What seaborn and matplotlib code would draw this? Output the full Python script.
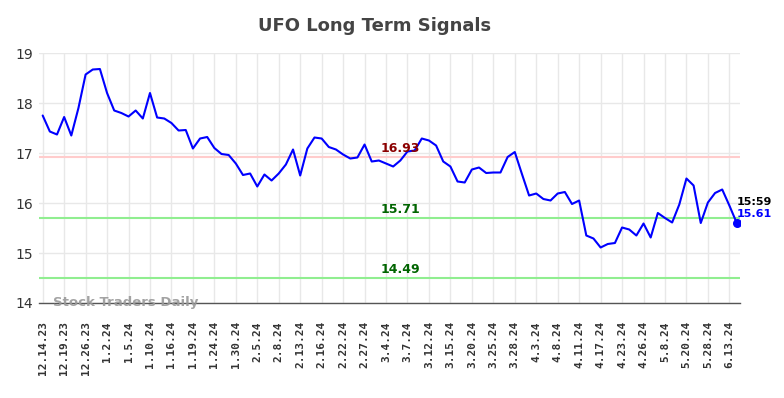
import matplotlib
matplotlib.use("Agg")
import matplotlib.pyplot as plt
import seaborn as sns
import numpy as np
import pandas as pd

prices = [17.75, 17.43, 17.37, 17.72, 17.35, 17.90, 18.57, 18.67, 18.68, 18.20,
          17.85, 17.80, 17.73, 17.85, 17.69, 18.20, 17.71, 17.69, 17.60, 17.45,
          17.46, 17.09, 17.29, 17.32, 17.10, 16.98, 16.96, 16.79, 16.56, 16.59,
          16.33, 16.57, 16.45, 16.59, 16.77, 17.07, 16.55, 17.09, 17.31, 17.29,
          17.12, 17.07, 16.97, 16.89, 16.91, 17.17, 16.83, 16.85, 16.79, 16.73,
          16.85, 17.03, 17.05, 17.29, 17.25, 17.15, 16.83, 16.73, 16.43, 16.41,
          16.67, 16.71, 16.60, 16.61, 16.61, 16.92, 17.02, 16.58, 16.15, 16.19,
          16.08, 16.05, 16.19, 16.22, 15.98, 16.05, 15.35, 15.29, 15.11, 15.18,
          15.20, 15.51, 15.47, 15.35, 15.59, 15.31, 15.80, 15.70, 15.61, 15.97,
          16.49, 16.35, 15.60, 16.01, 16.20, 16.27, 15.95, 15.61]

tick_labels = ["12.14.23", "12.19.23", "12.26.23", "1.2.24", "1.5.24", "1.10.24",
               "1.16.24", "1.19.24", "1.24.24", "1.30.24", "2.5.24", "2.8.24",
               "2.13.24", "2.16.24", "2.22.24", "2.27.24", "3.4.24", "3.7.24",
               "3.12.24", "3.15.24", "3.20.24", "3.25.24", "3.28.24", "4.3.24",
               "4.8.24", "4.11.24", "4.17.24", "4.23.24", "4.26.24", "5.8.24",
               "5.20.24", "5.28.24", "6.13.24"]

resistance = 16.93
support_levels = [15.71, 14.49]
last_time = "15:59"
last_price = 15.61

df = pd.DataFrame({"idx": np.arange(len(prices)), "price": prices})

sns.set_style("white")
fig = plt.figure(figsize=(7.84, 3.98), dpi=100)
ax = fig.add_axes([0.0497, 0.2387, 0.8943, 0.6281])

sns.lineplot(data=df, x="idx", y="price", ax=ax, color="#0000ff", linewidth=1.5)
ax.scatter([df["idx"].iloc[-1]], [last_price], color="#0000ff", s=30, zorder=5)

ax.axhline(resistance, color="#ffcccc", linewidth=1.5, zorder=1)
for s in support_levels:
    ax.axhline(s, color="#90ee90", linewidth=1.5, zorder=1)

mid = 50
ax.text(mid, resistance + 0.04, f"{resistance:.2f}", color="#8b0000",
        fontsize=9, fontweight="bold", ha="center", va="bottom")
for s in support_levels:
    ax.text(mid, s + 0.04, f"{s:.2f}", color="#006400",
            fontsize=9, fontweight="bold", ha="center", va="bottom")

n = len(prices)
ax.text(n - 1 + 0.0, last_price + 0.42, last_time, color="black", fontsize=8,
        fontweight="bold", ha="left", va="center")
ax.text(n - 1 + 0.0, last_price + 0.17, f"{last_price:.2f}", color="#0000ff",
        fontsize=8, fontweight="bold", ha="left", va="center")

ax.text(1.5, 14.0, "Stock Traders Daily", color="#999999", fontsize=9.5,
        fontweight="bold", ha="left", va="center", alpha=0.9)

ax.set_xlim(-0.52, 97.5)
ax.set_ylim(14, 19)
ax.set_yticks([14, 15, 16, 17, 18, 19])
ax.set_yticklabels(["14", "15", "16", "17", "18", "19"], fontsize=10, color="#333333")
ax.set_xticks(np.arange(0, len(tick_labels) * 3, 3))
ax.set_xticklabels(tick_labels, rotation=90, fontsize=8, fontweight="bold",
                   color="#333333", family="DejaVu Sans Mono")
ax.set_xlabel("")
ax.set_ylabel("")
ax.grid(True, color="#e8e8e8", linewidth=1)
ax.tick_params(axis="y", length=0, pad=4)
ax.tick_params(axis="x", length=0, pad=13)
for side in ["left", "right", "top"]:
    ax.spines[side].set_visible(False)
ax.spines["bottom"].set_color("#555555")
ax.spines["bottom"].set_linewidth(1)

fig.suptitle("UFO Long Term Signals", x=0.478, y=0.958, fontsize=13,
             fontweight="bold", color="#444444")

fig.savefig("out.png", dpi=100)
